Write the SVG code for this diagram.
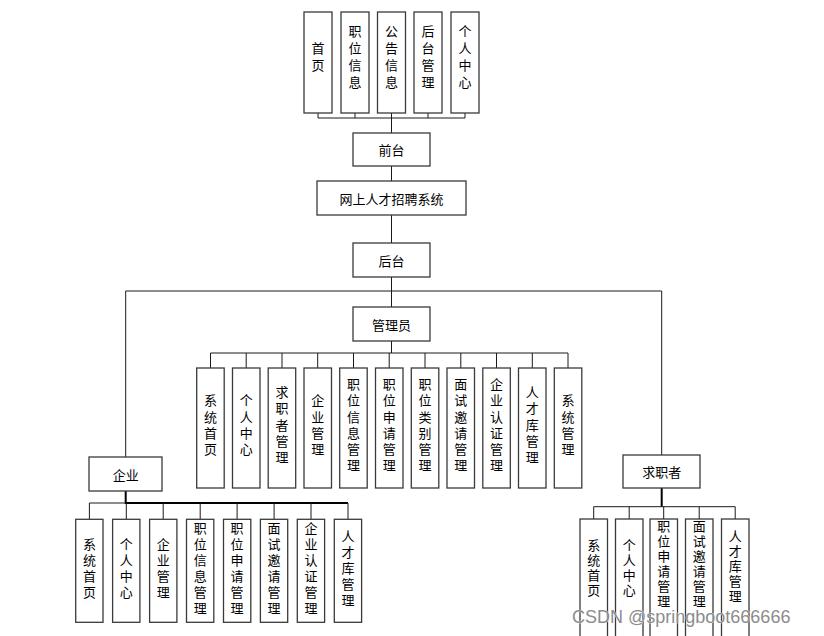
<svg xmlns="http://www.w3.org/2000/svg" width="824" height="636" viewBox="0 0 824 636">
<style>
.box{fill:#fff;stroke:#3a3a3a;stroke-width:1.3}
.ln{fill:none;stroke:#1a1a1a;stroke-width:1}
.tk{fill:none;stroke:#000;stroke-width:2}
text{font-family:"Noto Sans CJK SC","Noto Sans",sans-serif;font-size:13px;fill:#000;text-anchor:middle}
.h{dominant-baseline:central}
.v{writing-mode:vertical-rl}
.t{letter-spacing:4px}
.a{letter-spacing:3.3px}
.e{letter-spacing:3px}
.j{letter-spacing:2px}
.wm{font-family:"Liberation Sans",Arial,sans-serif;font-size:18px;fill:#8c8c8c;text-anchor:start;stroke:#fff;stroke-width:0.6;paint-order:stroke}
</style>
<rect width="824" height="636" fill="#fff"/>
<g id="connectors">
<path class="ln" d="M318,113V118M355,113V118M428,113V118M465,113V118M318,118H465"/>
<path class="ln" d="M391.5,113V133M391.5,166V181M391.5,215V243M391.5,277V307"/>
<path class="ln" d="M125.7,457V291H661.7V455"/>
<path class="ln" d="M391.5,341V353M210.5,353H568M210.5,353V368M246.2,353V368M282,353V368M317.7,353V368M353.5,353V368M389.2,353V368M425,353V368M460.8,353V368M496.5,353V368M532.3,353V368M568,353V368"/>
<path class="tk" d="M125.7,491V503H348"/>
<path class="ln" d="M89.4,503H125.7M89.4,503V519M126.3,503V519M163.2,503V519M200.2,503V519M237.1,503V519M274.1,503V519M311,503V519M348,503V519"/>
<path class="tk" d="M661.7,488V506.7"/>
<path class="ln" d="M593.7,506.7H735.2M593.7,506.7V519M629.2,506.7V519M663.7,506.7V519M699.2,506.7V519M735.2,506.7V519"/>
</g>
<g id="top-home"><rect class="box" x="304" y="12" width="28" height="101"/><text class="v t" x="318" y="59">首页</text></g>
<g id="top-jobinfo"><rect class="box" x="341" y="12" width="28" height="101"/><text class="v t" x="355" y="58.5">职位信息</text></g>
<g id="top-notice"><rect class="box" x="377.5" y="12" width="28" height="101"/><text class="v t" x="391.5" y="58.5">公告信息</text></g>
<g id="top-admin"><rect class="box" x="414" y="12" width="28" height="101"/><text class="v t" x="428" y="58.5">后台管理</text></g>
<g id="top-personal"><rect class="box" x="451" y="12" width="28" height="101"/><text class="v t" x="465" y="58.5">个人中心</text></g>
<g id="frontend"><rect class="box" x="353" y="133" width="77" height="33"/><text class="h" x="391.5" y="149.5">前台</text></g>
<g id="system"><rect class="box" x="317" y="181" width="149" height="34"/><text class="h" x="391.5" y="198">网上人才招聘系统</text></g>
<g id="backend"><rect class="box" x="353" y="243" width="77" height="34"/><text class="h" x="391.5" y="260">后台</text></g>
<g id="admin"><rect class="box" x="353" y="307" width="77" height="34"/><text class="h" x="391.5" y="324">管理员</text></g>
<g id="a1"><rect class="box" x="196.7" y="368" width="27.5" height="120"/><text class="v a" x="210.5" y="426.4">系统首页</text></g>
<g id="a2"><rect class="box" x="232.5" y="368" width="27.5" height="120"/><text class="v a" x="246.2" y="426.4">个人中心</text></g>
<g id="a3"><rect class="box" x="268.2" y="368" width="27.5" height="120"/><text class="v a" x="282" y="426.4">求职者管理</text></g>
<g id="a4"><rect class="box" x="304" y="368" width="27.5" height="120"/><text class="v a" x="317.7" y="426.4">企业管理</text></g>
<g id="a5"><rect class="box" x="339.7" y="368" width="27.5" height="120"/><text class="v a" x="353.5" y="426.4">职位信息管理</text></g>
<g id="a6"><rect class="box" x="375.5" y="368" width="27.5" height="120"/><text class="v a" x="389.2" y="426.4">职位申请管理</text></g>
<g id="a7"><rect class="box" x="411.3" y="368" width="27.5" height="120"/><text class="v a" x="425" y="426.4">职位类别管理</text></g>
<g id="a8"><rect class="box" x="447" y="368" width="27.5" height="120"/><text class="v a" x="460.8" y="426.4">面试邀请管理</text></g>
<g id="a9"><rect class="box" x="482.8" y="368" width="27.5" height="120"/><text class="v a" x="496.5" y="426.4">企业认证管理</text></g>
<g id="a10"><rect class="box" x="518.5" y="368" width="27.5" height="120"/><text class="v a" x="532.3" y="426.4">人才库管理</text></g>
<g id="a11"><rect class="box" x="554.3" y="368" width="27.5" height="120"/><text class="v a" x="568" y="426.4">系统管理</text></g>
<g id="enterprise"><rect class="box" x="89" y="457" width="73" height="34"/><text class="h" x="125.7" y="474">企业</text></g>
<g id="e1"><rect class="box" x="75.7" y="519.3" width="27.3" height="103"/><text class="v e" x="89.4" y="569.3">系统首页</text></g>
<g id="e2"><rect class="box" x="112.6" y="519.3" width="27.3" height="103"/><text class="v e" x="126.3" y="569.3">个人中心</text></g>
<g id="e3"><rect class="box" x="149.6" y="519.3" width="27.3" height="103"/><text class="v e" x="163.2" y="569.3">企业管理</text></g>
<g id="e4"><rect class="box" x="186.5" y="519.3" width="27.3" height="103"/><text class="v e" x="200.2" y="569.3">职位信息管理</text></g>
<g id="e5"><rect class="box" x="223.5" y="519.3" width="27.3" height="103"/><text class="v e" x="237.1" y="569.3">职位申请管理</text></g>
<g id="e6"><rect class="box" x="260.4" y="519.3" width="27.3" height="103"/><text class="v e" x="274.1" y="569.3">面试邀请管理</text></g>
<g id="e7"><rect class="box" x="297.3" y="519.3" width="27.3" height="103"/><text class="v e" x="311" y="569.3">企业认证管理</text></g>
<g id="e8"><rect class="box" x="334.3" y="519.3" width="27.3" height="103"/><text class="v e" x="348" y="569.3">人才库管理</text></g>
<g id="jobseeker"><rect class="box" x="623" y="455" width="77" height="33"/><text class="h" x="661.7" y="471.5">求职者</text></g>
<g id="j1"><rect class="box" x="580" y="519" width="27.5" height="130"/><text class="v j" x="593.7" y="568.5">系统首页</text></g>
<g id="j2"><rect class="box" x="615.5" y="519" width="27.5" height="130"/><text class="v j" x="629.2" y="568.5">个人中心</text></g>
<g id="j3"><rect class="box" x="650" y="519" width="27.5" height="130"/><text class="v j" x="663.7" y="564.5">职位申请管理</text></g>
<g id="j4"><rect class="box" x="685.5" y="519" width="27.5" height="130"/><text class="v j" x="699.2" y="564.5">面试邀请管理</text></g>
<g id="j5"><rect class="box" x="721.5" y="519" width="27.5" height="130"/><text class="v j" x="735.2" y="567">人才库管理</text></g>
<text class="wm" x="572" y="623">CSDN @springboot666666</text>
</svg>
